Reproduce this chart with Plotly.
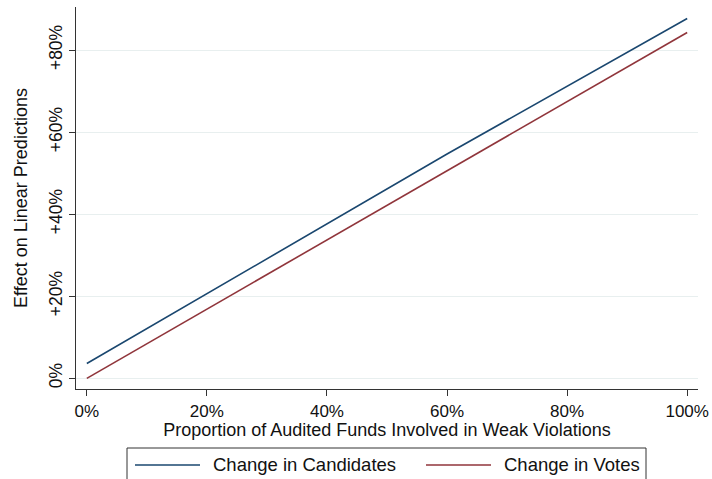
import plotly.graph_objects as go

# Share of audited funds involved in weak violations (x) and predicted effects
x_share = [0.0, 0.6, 1.0]
candidates_effect = [0.036, 0.5466, 0.877]
votes_effect = [0.0, 0.5058, 0.843]

series_names = ["Change in Candidates", "Change in Votes"]
series_colors = ["#1a476f", "#90353b"]

x_ticks = [0, 0.2, 0.4, 0.6, 0.8, 1.0]
x_tick_labels = ["0%", "20%", "40%", "60%", "80%", "100%"]
y_ticks = [0, 0.2, 0.4, 0.6, 0.8]
y_tick_labels = ["0%", "+20%", "+40%", "+60%", "+80%"]

FONT = "Liberation Sans, Arial, Helvetica, sans-serif"
W, H = 712, 479
ML, MR, MT, MB = 76, 14, 7, 90
PW, PH = W - ML - MR, H - MT - MB


def px(xp):
    """Horizontal pixel position -> paper coordinate."""
    return (xp - ML) / PW


def py(yp):
    """Vertical pixel position (from top) -> paper coordinate."""
    return (H - MB - yp) / PH


fig = go.Figure()
for name, color, ys in zip(series_names, series_colors,
                           [candidates_effect, votes_effect]):
    fig.add_trace(go.Scatter(
        x=x_share, y=ys, mode="lines", name=name,
        line=dict(color=color, width=1.6),
    ))

# Legend box below the axis title, drawn with shapes and annotations
shapes = [dict(type="rect", xref="paper", yref="paper",
               x0=px(127), x1=px(646), y0=py(490), y1=py(448),
               line=dict(color="#333333", width=1), fillcolor="white",
               layer="above")]
annotations = []
entry_x = [135, 426]
for (name, color), x0 in zip(zip(series_names, series_colors), entry_x):
    shapes.append(dict(type="line", xref="paper", yref="paper",
                       x0=px(x0), x1=px(x0 + 65), y0=py(465), y1=py(465),
                       line=dict(color=color, width=1.6), layer="above"))
    annotations.append(dict(text=name, xref="paper", yref="paper",
                            x=px(x0 + 76), y=py(465), xanchor="left",
                            yanchor="middle", showarrow=False,
                            font=dict(size=18.5, family=FONT, color="#111111")))

fig.update_layout(
    width=W, height=H,
    margin=dict(l=ML, r=MR, t=MT, b=MB),
    paper_bgcolor="white", plot_bgcolor="white",
    font=dict(family=FONT, size=16, color="#111111"),
    showlegend=False,
    shapes=shapes,
    annotations=annotations,
)

fig.update_xaxes(
    range=[-0.018, 1.018],
    tickvals=x_ticks, ticktext=x_tick_labels,
    ticks="outside", ticklen=6, tickcolor="#333333", tickwidth=1,
    showline=True, linecolor="#333333", linewidth=1.2,
    showgrid=False, zeroline=False, automargin=False,
    title=dict(text="Proportion of Audited Funds Involved in Weak Violations",
               standoff=0, font=dict(size=18)),
    tickfont=dict(size=17),
)
fig.update_yaxes(
    range=[-0.026, 0.905],
    tickvals=y_ticks, ticktext=y_tick_labels,
    ticks="outside", ticklen=6, tickcolor="#333333", tickwidth=1,
    showline=True, linecolor="#333333", linewidth=1.2,
    showgrid=True, gridcolor="#e8efef", gridwidth=1,
    zeroline=False, automargin=False,
    tickangle=-90,
    title=dict(text="Effect on Linear Predictions", standoff=13,
               font=dict(size=18)),
    tickfont=dict(size=17.5),
)

fig.write_html("out.html")
